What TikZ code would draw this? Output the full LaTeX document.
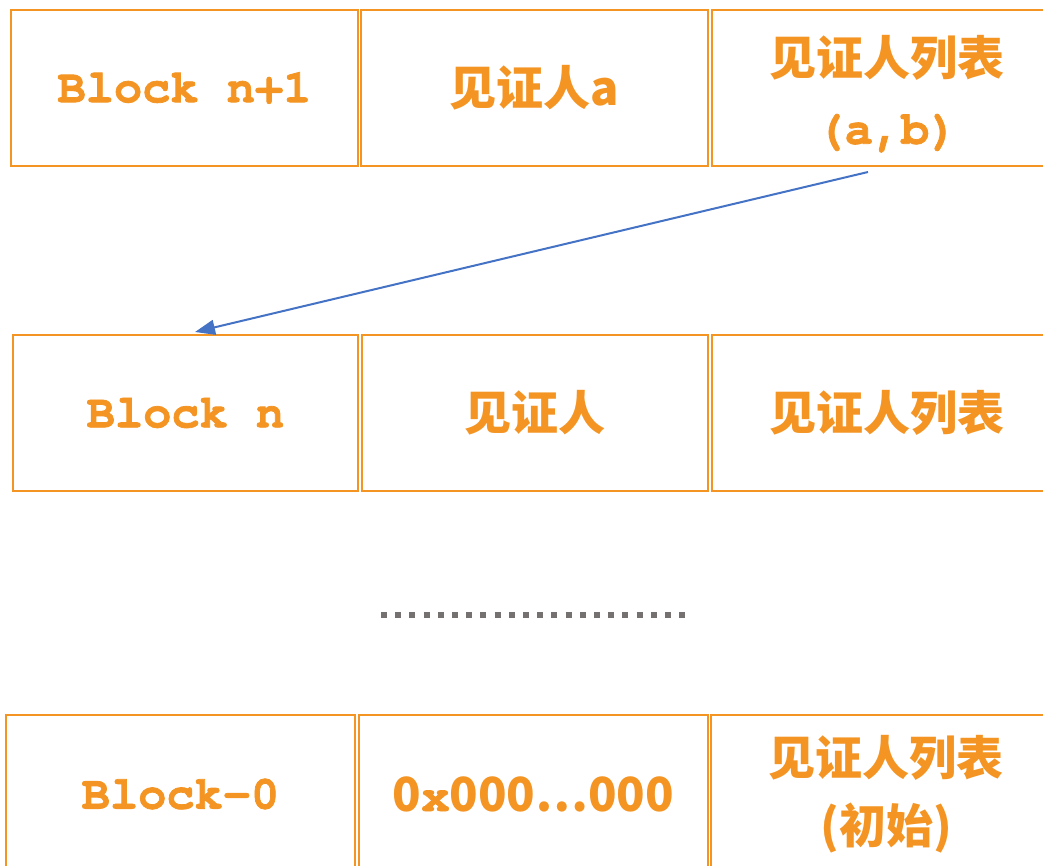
\documentclass[tikz,border=0pt]{standalone}
\usepackage{fontspec}
\setmonofont{TeX Gyre Cursor}[BoldFeatures={FakeBold=1.6}]
\newfontfamily\cjk{Noto Sans CJK SC}
\usetikzlibrary{arrows.meta}
\definecolor{org}{HTML}{F39423}
\definecolor{arrblue}{HTML}{4472C4}
\definecolor{dotgray}{HTML}{767171}
\tikzset{
  cell/.style={draw=org, line width=2pt, anchor=north west, inner sep=0pt,
    text=org, align=center, font=\fontsize{47}{68}\selectfont\bfseries},
  celltext/.style={inner sep=0pt, text=org, align=center,
    font=\fontsize{47}{68}\selectfont\bfseries},
}
\newcommand{\mn}[1]{{\ttfamily\bfseries #1}}
\newcommand{\zh}[1]{{\cjk\bfseries #1}}
\begin{document}
\begin{tikzpicture}[x=1pt,y=-1pt]
\useasboundingbox (0,0) rectangle (1043,866);
% row 1
\node[cell, minimum width=347pt, minimum height=156pt] (a1) at (10,9) {\mn{Block n+1}};
\node[cell, minimum width=347pt, minimum height=156pt] (a2) at (360,9) {\zh{见证人a}};
\node[cell, minimum width=340pt, minimum height=156pt] (a3) at (711,9) {};
\node[celltext] (a3t) at ([xshift=5pt,yshift=-6pt]a3.center) {\zh{见证人列表}\\\mn{(a,b)}};
% row 2
\node[cell, minimum width=345pt, minimum height=156pt] (b1) at (12,334) {\mn{Block n}};
\node[cell, minimum width=346pt, minimum height=156pt] (b2) at (361,334) {\zh{见证人}};
\node[cell, minimum width=340pt, minimum height=156pt] (b3) at (711,334) {};
\node[celltext] (b3t) at ([xshift=5pt]b3.center) {\zh{见证人列表}};
% row 3
\node[cell, minimum width=349pt, minimum height=158pt] (c1) at (5,714) {\mn{Block-0}};
\node[cell, minimum width=349pt, minimum height=158pt] (c2) at (358,714) {\zh{0}\mn{x}\zh{000…000}};
\node[cell, minimum width=340pt, minimum height=158pt] (c3) at (710,714) {};
\node[celltext] (c3t) at ([xshift=5pt]c3.center) {\zh{见证人列表}\\\zh{(初始)}};
% arrow
\coordinate (s) at (868,172);
\coordinate (t) at (195,332);
\draw[arrblue, line width=2pt, -{Triangle[length=20pt,width=15pt]}] (s) -- (t);
% dots
\coordinate (d1) at (381,615);
\coordinate (d2) at (688,615);
\draw[dotgray, line width=6pt, dash pattern=on 6pt off 8.2pt] (d1) -- (d2);
\end{tikzpicture}
\end{document}
